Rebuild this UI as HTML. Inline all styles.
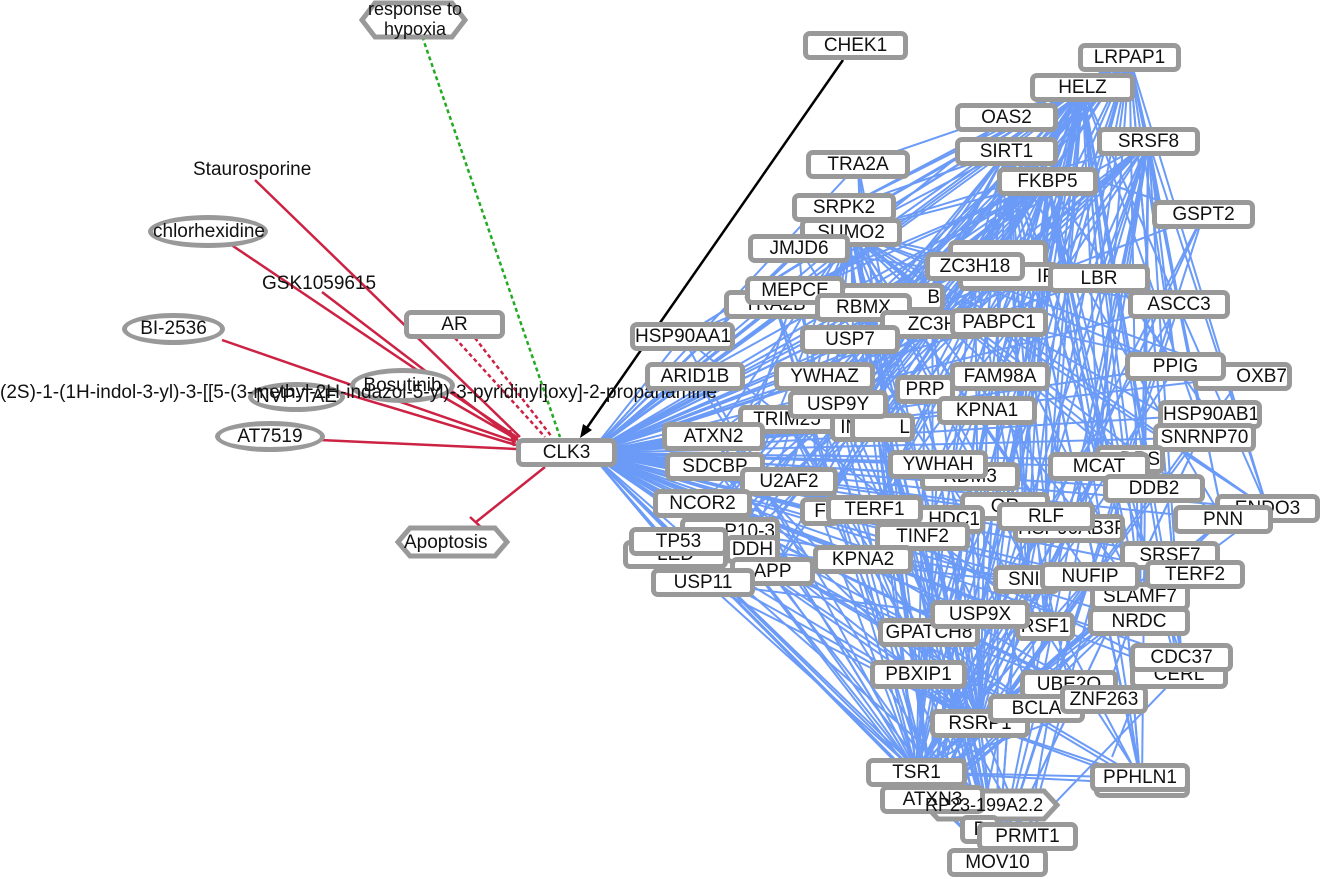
<!DOCTYPE html>
<html><head><meta charset="utf-8">
<style>
body{margin:0;width:1320px;height:879px;overflow:hidden;background:#fff;position:relative;font-family:"Liberation Sans",sans-serif;}
svg{position:absolute;left:0;top:0}
.n{position:absolute;box-sizing:border-box;height:29px;border:5px solid #999;border-radius:7px;background:#fff;font-size:19px;line-height:20px;text-align:center;color:#111;white-space:nowrap;overflow:hidden}
.t{position:absolute;font-size:19px;color:#111;white-space:nowrap}
.e{position:absolute;box-sizing:border-box;border:5px solid #999;border-radius:50%;background:#fff;font-size:19px;text-align:center;color:#111;white-space:nowrap}
</style></head><body>
<svg id="s" width="1320" height="879">
<g id="blue" stroke="#6b9bf7" stroke-width="2" fill="none"></g>
<g stroke="#cc2244" stroke-width="2.5">
<line x1="255" y1="180" x2="520" y2="437"/>
<line x1="230" y1="244" x2="518" y2="438"/>
<line x1="322" y1="292" x2="516" y2="440"/>
<line x1="222" y1="340" x2="516" y2="442"/>
<line x1="340" y1="392" x2="516" y2="445"/>
<line x1="440" y1="395" x2="518" y2="440"/>
<line x1="320" y1="440" x2="516" y2="449"/>
<line x1="545" y1="467" x2="476" y2="522"/>
<line x1="470" y1="517" x2="482" y2="528"/>
<line x1="455" y1="338" x2="545" y2="437" stroke-dasharray="4,3"/>
<line x1="475" y1="338" x2="552" y2="437" stroke-dasharray="4,3"/>
<line x1="510" y1="430" x2="514" y2="446"/>
</g>
<line x1="420" y1="30" x2="560" y2="437" stroke="#22aa22" stroke-width="2.5" stroke-dasharray="4,3"/>
<line x1="843" y1="60" x2="584" y2="432" stroke="#000" stroke-width="2.5"/>
<polygon points="580,438 583,424 592,430" fill="#000"/>
<polygon points="362,20 375,3 452,3 465,20 452,37 375,37" fill="#fff" stroke="#999" stroke-width="5"/>
<polygon points="398,542 410,528 495,528 507,542 495,556 410,556" fill="#fff" stroke="#999" stroke-width="5"/>
<polygon points="925,805 938,791 1044,791 1057,805 1044,819 938,819" fill="#fff" stroke="#999" stroke-width="5"/>
</svg>
<div class="t" style="left:355px;top:-1px;line-height:20px;width:120px;text-align:center;font-size:18px">response to<br>hypoxia</div>
<div class="t" style="left:404px;top:532px">Apoptosis</div>
<div class="t" style="left:193px;top:159px">Staurosporine</div>
<div class="e" style="left:148px;top:215px;width:120px;height:33px;line-height:23px">chlorhexidine</div>
<div class="t" style="left:262px;top:273px">GSK1059615</div>
<div class="e" style="left:122px;top:313px;width:103px;height:32px;line-height:22px">BI-2536</div>
<div class="e" style="left:248px;top:382px;width:97px;height:30px;line-height:20px">NVP-TAE</div>
<div class="e" style="left:350px;top:368px;width:105px;height:35px;line-height:25px">Bosutinib</div>
<div class="t" style="left:0px;top:382px">(2S)-1-(1H-indol-3-yl)-3-[[5-(3-methyl-2H-indazol-5-yl)-3-pyridinyl]oxy]-2-propanamine</div>
<div class="e" style="left:215px;top:421px;width:110px;height:31px;line-height:21px">AT7519</div>
<div class="n" style="left:404px;top:310px;width:101px">AR</div>
<div class="n" style="left:516px;top:438px;width:101px">CLK3</div>

<div id="right">
<div class="n" style="left:803px;top:31px;width:105px">CHEK1</div>
<div class="n" style="left:1078px;top:43px;width:103px">LRPAP1</div>
<div class="n" style="left:1030px;top:73px;width:105px">HELZ</div>
<div class="n" style="left:955px;top:103px;width:103px">OAS2</div>
<div class="n" style="left:1097px;top:127px;width:103px">SRSF8</div>
<div class="n" style="left:955px;top:137px;width:103px">SIRT1</div>
<div class="n" style="left:806px;top:150px;width:104px">TRA2A</div>
<div class="n" style="left:997px;top:167px;width:101px">FKBP5</div>
<div class="n" style="left:792px;top:193px;width:104px">SRPK2</div>
<div class="n" style="left:1152px;top:200px;width:103px">GSPT2</div>
<div class="n" style="left:800px;top:218px;width:102px">SUMO2</div>
<div class="n" style="left:948px;top:240px;width:100px">&nbsp;</div>
<div class="n" style="left:748px;top:234px;width:102px">JMJD6</div>
<div class="n" style="left:958px;top:262px;width:102px;text-align:right">IP</div>
<div class="n" style="left:925px;top:252px;width:100px">ZC3H18</div>
<div class="n" style="left:1048px;top:264px;width:102px">LBR</div>
<div class="n" style="left:724px;top:290px;width:102px">TRA2B</div>
<div class="n" style="left:840px;top:283px;width:105px;text-align:right">B</div>
<div class="n" style="left:745px;top:276px;width:100px">MEPCE</div>
<div class="n" style="left:815px;top:293px;width:97px">RBMX</div>
<div class="n" style="left:1128px;top:290px;width:102px">ASCC3</div>
<div class="n" style="left:880px;top:310px;width:105px">ZC3H</div>
<div class="n" style="left:950px;top:308px;width:98px">PABPC1</div>
<div class="n" style="left:630px;top:322px;width:105px">HSP90AA1</div>
<div class="n" style="left:800px;top:325px;width:100px">USP7</div>
<div class="n" style="left:1193px;top:362px;width:99px;text-align:right">OXB7</div>
<div class="n" style="left:1125px;top:352px;width:101px">PPIG</div>
<div class="n" style="left:645px;top:362px;width:100px">ARID1B</div>
<div class="n" style="left:895px;top:375px;width:60px">PRP</div>
<div class="n" style="left:774px;top:362px;width:101px">YWHAZ</div>
<div class="n" style="left:950px;top:362px;width:100px">FAM98A</div>
<div class="n" style="left:738px;top:405px;width:98px">TRIM25</div>
<div class="n" style="left:830px;top:413px;width:50px">IN2</div>
<div class="n" style="left:850px;top:413px;width:65px;text-align:right">L</div>
<div class="n" style="left:788px;top:390px;width:100px">USP9Y</div>
<div class="n" style="left:937px;top:396px;width:100px">KPNA1</div>
<div class="n" style="left:1158px;top:400px;width:104px">HSP90AB1</div>
<div class="n" style="left:1153px;top:423px;width:103px">SNRNP70</div>
<div class="n" style="left:662px;top:422px;width:103px">ATXN2</div>
<div class="n" style="left:1095px;top:445px;width:70px;text-align:right">DRS</div>
<div class="n" style="left:1048px;top:452px;width:102px">MCAT</div>
<div class="n" style="left:920px;top:462px;width:100px">RDM3</div>
<div class="n" style="left:888px;top:450px;width:100px">YWHAH</div>
<div class="n" style="left:665px;top:452px;width:100px">SDCBP</div>
<div class="n" style="left:1215px;top:494px;width:105px">ENDO3</div>
<div class="n" style="left:1103px;top:474px;width:102px">DDB2</div>
<div class="n" style="left:740px;top:467px;width:98px">U2AF2</div>
<div class="n" style="left:653px;top:489px;width:99px">NCOR2</div>
<div class="n" style="left:960px;top:492px;width:90px">OR</div>
<div class="n" style="left:800px;top:497px;width:40px">F</div>
<div class="n" style="left:880px;top:505px;width:105px;text-align:right">HDC1</div>
<div class="n" style="left:826px;top:495px;width:97px">TERF1</div>
<div class="n" style="left:1013px;top:514px;width:112px">HSP90AB3P</div>
<div class="n" style="left:997px;top:502px;width:98px">RLF</div>
<div class="n" style="left:1173px;top:505px;width:100px">PNN</div>
<div class="n" style="left:875px;top:522px;width:95px">TINF2</div>
<div class="n" style="left:680px;top:517px;width:100px;text-align:right">P10-3</div>
<div class="n" style="left:623px;top:540px;width:105px">LED</div>
<div class="n" style="left:725px;top:535px;width:55px">DDH</div>
<div class="n" style="left:629px;top:527px;width:99px">TP53</div>
<div class="n" style="left:1120px;top:541px;width:100px">SRSF7</div>
<div class="n" style="left:730px;top:557px;width:85px">APP</div>
<div class="n" style="left:813px;top:545px;width:100px">KPNA2</div>
<div class="n" style="left:651px;top:568px;width:104px">USP11</div>
<div class="n" style="left:1090px;top:582px;width:100px">SLAMF7</div>
<div class="n" style="left:1145px;top:560px;width:100px">TERF2</div>
<div class="n" style="left:993px;top:565px;width:67px">SNII</div>
<div class="n" style="left:1040px;top:562px;width:100px">NUFIP</div>
<div class="n" style="left:878px;top:618px;width:102px">GPATCH8</div>
<div class="n" style="left:1015px;top:612px;width:60px">RSF1</div>
<div class="n" style="left:930px;top:600px;width:100px">USP9X</div>
<div class="n" style="left:1088px;top:607px;width:102px">NRDC</div>
<div class="n" style="left:1130px;top:660px;width:98px">CERL</div>
<div class="n" style="left:1130px;top:643px;width:103px">CDC37</div>
<div class="n" style="left:870px;top:660px;width:97px">PBXIP1</div>
<div class="n" style="left:1020px;top:670px;width:98px">UBE2O</div>
<div class="n" style="left:930px;top:709px;width:100px">RSRP1</div>
<div class="n" style="left:988px;top:694px;width:97px">BCLA</div>
<div class="n" style="left:1060px;top:685px;width:88px">ZNF263</div>
<div class="n" style="left:1094px;top:769px;width:96px">&nbsp;</div>
<div class="n" style="left:1090px;top:763px;width:100px">PPHLN1</div>
<div class="n" style="left:880px;top:785px;width:105px">ATXN3</div>
<div class="n" style="left:866px;top:758px;width:101px">TSR1</div>
<div class="n" style="left:960px;top:815px;width:40px">P</div>
<div class="n" style="left:977px;top:822px;width:101px">PRMT1</div>
<div class="n" style="left:947px;top:848px;width:101px">MOV10</div>
</div>
<div class="t" style="left:925px;top:795px;font-size:18px">RP23-199A2.2</div>
<script>
(function(){
var g=document.getElementById('blue');
var ns=document.querySelectorAll('#right .n');
var P=[];
ns.forEach(function(d){var x=d.offsetLeft+d.offsetWidth/2,y=d.offsetTop+d.offsetHeight/2;P.push([x,y,d.textContent]);});
var s='';
function L(a,b){s+='<line x1="'+a[0]+'" y1="'+a[1]+'" x2="'+b[0]+'" y2="'+b[1]+'"/>';}
var c=[590,453];
P.forEach(function(p){if(p[2]!=='CHEK1')L(c,p);});
var hubs=['HELZ','LRPAP1','SRSF8','SIRT1','FKBP5','TSR1','MOV10','ATXN3','RSRP1','SUMO2'];
var seed=7;function r(){seed=(seed*9301+49297)%233280;return seed/233280;}
P.forEach(function(h){if(hubs.indexOf(h[2])<0)return;P.forEach(function(p){if(p!==h&&p[2]!=='CHEK1'&&r()<0.3)L(h,p);});});
for(var i=0;i<50;i++){var a=P[Math.floor(r()*P.length)],b=P[Math.floor(r()*P.length)];if(a[2]!=='CHEK1'&&b[2]!=='CHEK1')L(a,b);}
L([1140,686],[1112,757]);
g.innerHTML=s;
})();
</script>
</body></html>
